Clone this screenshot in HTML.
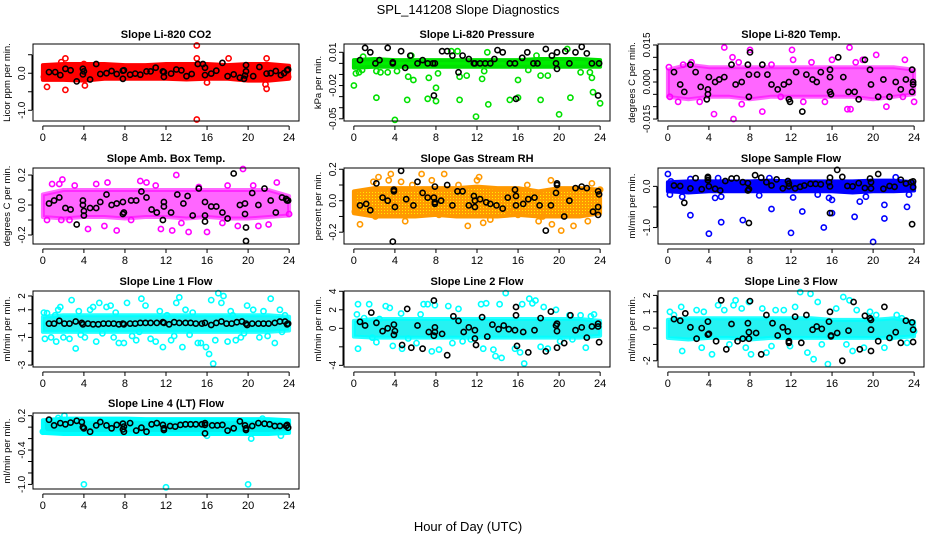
<!DOCTYPE html>
<html><head><meta charset="utf-8"><style>
html,body{margin:0;padding:0;background:#fff;}
svg{display:block;font-family:"Liberation Sans",sans-serif;}
</style></head><body>
<svg id="chart" width="936" height="540" viewBox="0 0 936 540" xmlns="http://www.w3.org/2000/svg">
<defs>
<pattern id="rhpat" width="3" height="3" patternUnits="userSpaceOnUse"><rect width="3" height="3" fill="#ff9900"/><rect width="1" height="1" fill="#ffee00"/></pattern>
</defs>
<text x="468" y="14" text-anchor="middle" font-size="13">SPL_141208  Slope Diagnostics</text>
<text x="468" y="531" text-anchor="middle" font-size="13">Hour of Day (UTC)</text>
</svg>
<script>
const xTicks=[0,4,8,12,16,20,24];
const bandHours=[0,2,4,6,8,10,12,14,16,18,20,22,24];
// Panel 1: CO2
const p1BandLo=[-0.18,-0.18,-0.2,-0.15,-0.15,-0.15,-0.15,-0.17,-0.15,-0.15,-0.2,-0.2,-0.15];
const p1BandHi=[0.22,0.25,0.25,0.25,0.22,0.22,0.25,0.25,0.25,0.22,0.25,0.25,0.2];
const p1Col=[[0.4,-0.37],[2.2,-0.45],[2.2,0.4],[15,0.75],[15,-1.25],[15,0.4],[21.8,0.4],[21.8,-0.42],[4.1,-0.33],[4,0.25],[1.8,0.3],[21.7,-0.3],[18.1,0.4],[16,-0.25],[0.1,-0.1],[23.9,-0.1]];
const p1Blk=[[0.6,0.03],[1.2,0.03],[1.7,-0.05],[2.2,0.12],[2.7,0.08],[3.3,-0.22],[3.9,0.12],[3.9,-0.03],[4,0.05],[4.6,-0.17],[5.2,0.25],[5.6,-0.02],[6.2,0],[6.7,0.06],[7.2,-0.02],[7.8,0.07],[7.8,-0.15],[7.9,0.08],[8.5,-0.04],[9,-0.01],[9.5,-0.04],[10.1,0.05],[10.5,0.05],[11,0.15],[11.7,0.05],[11.8,-0.1],[11.8,0.03],[12.5,-0.01],[13,0.1],[13.5,0.08],[14,-0.08],[14.5,-0.02],[15.1,0.25],[15.6,0.25],[15.8,0.15],[15.8,-0.05],[16.4,-0.01],[16.9,0.07],[17.5,0.28],[18,-0.08],[18.6,-0.03],[19.2,-0.12],[19.6,-0.15],[19.8,0.22],[19.8,0.05],[19.7,-0.06],[20.5,-0.08],[21.1,0.17],[21.8,-0.01],[22.2,0],[22.7,0.06],[23.2,-0.05],[23.5,0],[23.8,0.08],[23.9,0.1]];
// Panel 2: Pressure
const p2BandLo=[-0.004,-0.003,-0.003,-0.003,-0.003,-0.003,-0.003,-0.003,-0.003,-0.003,-0.003,-0.003,-0.003];
const p2BandHi=[0.003,0.004,0.003,0.003,0.003,0.003,0.003,0.003,0.003,0.004,0.004,0.004,0.003];
const p2Col=[[0,-0.02],[0.2,-0.009],[0.5,-0.008],[0.8,-0.006],[2.2,-0.031],[2.2,-0.007],[2.6,-0.008],[3.3,-0.008],[4,-0.051],[4.2,-0.007],[5.2,-0.033],[5.3,-0.012],[5.8,-0.015],[7.2,-0.032],[7.3,-0.013],[8,-0.022],[8,-0.034],[8.2,-0.009],[10.1,0.011],[10.3,-0.012],[10.3,-0.033],[11,-0.011],[11.9,-0.048],[12.5,-0.014],[12.7,-0.007],[13,0.01],[13.1,-0.037],[15.2,-0.033],[16,-0.015],[16,-0.031],[17,-0.006],[17.8,0.007],[18.2,-0.033],[18.2,-0.011],[18.9,-0.011],[20,-0.046],[20.8,0.013],[21.1,-0.031],[22.1,-0.008],[23,-0.008],[23.2,-0.013],[23.3,-0.026],[24,-0.036],[9.5,0.011],[0.9,0.006],[5.6,0.007]];
const p2Blk=[[0.6,0.003],[1.1,0.014],[1.6,0.01],[2.1,0],[2.5,0.003],[3.3,0.014],[3.8,0],[3.8,0.001],[4.6,0.011],[5,-0.004],[5.5,0.007],[6.2,0],[6.7,0.003],[7.2,0],[7.7,0],[7.8,-0.029],[7.9,0],[8.6,0.011],[9.1,0.011],[9.6,0.007],[10.2,-0.008],[10.6,0.007],[11.2,0.004],[11.7,0],[11.8,0],[12.3,0],[12.8,0],[13.3,0],[13.7,0.004],[14,0.012],[14.5,0.01],[15.2,0],[15.7,0],[15.8,-0.032],[16.4,0.005],[16.9,0.01],[17.5,0],[17.9,0],[18.7,0.013],[19.3,0.007],[19.7,0],[19.8,0.01],[19.8,-0.005],[20.6,0.011],[21,0],[21.6,0.01],[22.2,0.015],[22.7,0.009],[23.2,0],[23.9,0],[23.8,-0.029]];
// Panel 3: Li-820 Temp
const p3BandLo=[-0.006,-0.007,-0.006,-0.006,-0.007,-0.006,-0.006,-0.006,-0.006,-0.006,-0.007,-0.006,-0.005];
const p3BandHi=[0.005,0.007,0.006,0.006,0.006,0.006,0.006,0.006,0.006,0.006,0.006,0.006,0.005];
const p3Col=[[5.5,0.014],[6.3,0.01],[6.4,-0.015],[4.5,-0.013],[8,0.013],[12.1,0.013],[12.2,0.009],[17.7,0.014],[17.5,-0.011],[17.8,-0.011],[20.3,0.011],[23.1,0.009],[24,-0.008],[9.2,-0.012],[7.2,-0.009],[1.5,0.007],[0.1,0.006],[16,0.009],[19,0.009],[15.3,-0.008],[21.3,-0.01],[13.2,-0.008],[2.3,0.008],[10.1,0.007],[14,0.008],[3.1,-0.008],[0.2,-0.006],[11,-0.006],[22.9,-0.006],[1,-0.008],[18.3,0.008],[6.9,0.008]];
const p3Blk=[[0.6,0.004],[1.2,-0.001],[1.6,-0.004],[2.2,0.007],[2.7,0.004],[3.2,-0.002],[3.8,-0.007],[3.9,-0.003],[3.9,-0.005],[4,0.002],[4.6,0],[5,0.001],[5.5,0.002],[6.2,0.007],[6.6,-0.001],[7.2,0],[7.8,0.007],[7.9,0.003],[7.9,-0.006],[8,0.012],[8.7,0.003],[9.2,0.007],[9.7,0.003],[10.1,-0.001],[10.7,-0.003],[11.3,-0.001],[11.8,0],[11.8,-0.007],[11.9,-0.008],[12.5,0.004],[13.1,-0.012],[13.5,0.003],[14.1,0.001],[14.5,0],[14.9,0.004],[15.8,0.005],[15.8,0.002],[15.8,-0.004],[15.9,-0.005],[16.6,0.01],[17.1,0.002],[17.6,-0.004],[18.2,-0.004],[18.6,-0.007],[19.2,0.009],[19.7,0.005],[19.8,-0.001],[20.5,-0.006],[21,0.001],[21.6,-0.006],[22.2,0],[22.7,-0.003],[23.2,0.001],[23.8,0.005],[23.8,-0.004],[23.9,0],[23.9,-0.001]];
// Panel 4: Amb Box Temp
const p4BandLo=[-0.08,-0.09,-0.08,-0.08,-0.09,-0.08,-0.08,-0.09,-0.08,-0.09,-0.09,-0.08,-0.07];
const p4BandHi=[0.07,0.1,0.1,0.1,0.1,0.1,0.1,0.1,0.1,0.1,0.1,0.1,0.06];
const p4Col=[[1.9,0.17],[2.6,-0.1],[3.1,0.13],[4.4,-0.16],[5.2,0.14],[6.3,0.15],[7.2,-0.17],[9.5,0.16],[10.1,0.15],[11.5,-0.16],[12.6,-0.17],[13,0.2],[14.2,-0.18],[16,-0.18],[17.5,-0.12],[19.5,0.24],[19,-0.14],[21,-0.14],[22,-0.13],[22.8,0.15],[24,-0.06],[0.4,-0.1],[1.8,-0.1],[8.6,-0.1],[15.2,0.12],[18,0.13],[20.5,0.13],[0.9,0.14],[1.6,0.14],[6,-0.14],[13.5,-0.12],[11,0.13]];
const p4Blk=[[0.6,0.01],[1.1,0.03],[1.6,0.05],[2.2,-0.02],[2.7,-0.03],[3.3,-0.13],[3.9,0.03],[3.9,0],[4,-0.04],[4,-0.07],[4.6,-0.02],[5.2,-0.02],[5.6,0.02],[6.2,0.07],[6.7,0],[7.2,0.01],[7.8,0.02],[7.8,-0.06],[7.9,-0.05],[8.6,0.03],[9.1,0.03],[9.6,0.09],[10.1,0.05],[10.6,-0.03],[11.1,-0.05],[11.7,-0.1],[11.8,0.02],[11.8,-0.01],[12.5,-0.05],[13.1,0.07],[13.7,0.01],[14.1,0.06],[14.6,-0.07],[15.2,0.11],[15.8,0.02],[15.8,-0.07],[15.8,-0.11],[16.4,-0.01],[16.9,-0.01],[17.5,-0.05],[18,-0.09],[18.6,0.21],[19.2,0],[19.7,-0.06],[19.7,0.01],[19.8,-0.15],[19.8,-0.24],[20.4,0.08],[21,0],[21.6,0.11],[22.2,0.03],[22.7,-0.05],[23.3,0.05],[23.7,0.04],[23.8,0.03],[23.9,0.03]];
// Panel 5: Gas Stream RH
const p5BandLo=[-0.08,-0.1,-0.1,-0.1,-0.09,-0.1,-0.1,-0.1,-0.09,-0.1,-0.1,-0.1,-0.08];
const p5BandHi=[0.06,0.08,0.08,0.08,0.08,0.08,0.09,0.08,0.08,0.06,0.08,0.08,0.07];
const p5Col=[[0.6,-0.15],[1.9,0.12],[2.4,0.15],[3.4,0.13],[3.6,0.17],[4.6,0.12],[5,-0.13],[6.6,0.17],[7.6,0.13],[8.8,0.17],[11.1,-0.16],[12.2,0.15],[12.6,-0.14],[13.3,-0.12],[15.2,-0.08],[16,-0.09],[18,-0.13],[19.2,0.13],[19.3,-0.15],[20.2,-0.19],[21.4,-0.16],[22.8,-0.13],[23.2,0.11],[8.3,-0.09],[5.7,0.1],[16.9,0.1],[12,0.13],[0.1,-0.07],[24,0.07],[2.1,-0.1],[10.2,0.1],[18.4,-0.1]];
const p5Blk=[[0.6,-0.03],[1.2,-0.02],[1.6,-0.06],[2.2,0.11],[2.8,0.02],[3.3,0],[3.9,0.06],[3.9,0.07],[3.8,-0.26],[4,-0.04],[4.6,0.19],[5.1,0.01],[5.8,-0.03],[6.2,0.12],[6.7,0.05],[7.2,0.02],[7.8,0.02],[7.9,-0.01],[7.9,-0.02],[7.9,0.09],[8.5,0],[9.1,0.1],[9.6,-0.03],[10.1,0.06],[10.6,0.06],[11.2,-0.03],[11.7,0.03],[11.8,-0.04],[11.8,0],[12.3,0.01],[12.9,-0.01],[13.3,-0.02],[13.9,-0.03],[14.5,-0.05],[15,0.02],[15.7,0.07],[15.8,0.03],[15.8,-0.03],[16.5,-0.02],[17,0.01],[17.6,0.02],[18.1,-0.03],[18.7,-0.19],[19.2,-0.03],[19.7,0.05],[19.8,0.1],[19.8,0.11],[20.5,-0.1],[21,0],[21.6,0.08],[22.2,0.09],[22.7,0.08],[23.3,-0.07],[23.8,0.06],[23.8,-0.04],[23.8,-0.09],[23.9,0.04]];
// Panel 6: Sample Flow
const p6BandLo=[-0.12,-0.15,-0.12,-0.12,-0.12,-0.12,-0.12,-0.12,-0.12,-0.15,-0.12,-0.12,-0.1];
const p6BandHi=[0.1,0.12,0.12,0.12,0.12,0.14,0.12,0.12,0.12,0.12,0.14,0.14,0.1];
const p6Col=[[0,0.3],[0.2,-0.2],[2.2,-0.7],[4,-1.15],[5.2,-0.87],[7.3,-0.82],[10.1,-0.55],[12,-1.13],[13.1,-0.61],[15.2,-1.0],[16,-0.65],[18.2,-0.74],[20,-1.35],[21.1,-0.45],[21.1,-0.78],[23.3,-0.5],[12.2,-0.27],[18.7,-0.37],[16,-0.33],[4.6,-0.28],[5.2,-0.25],[0.3,0.12],[2.2,0.18],[4.9,0.2],[9.9,0.2],[14.6,-0.2],[22.2,0.22],[23.5,-0.2],[15.7,-0.28],[1.4,-0.25],[8.9,-0.22],[19.3,-0.25]];
const p6Blk=[[0.6,0.02],[1.2,0.01],[1.6,-0.4],[2.2,-0.05],[2.7,0.2],[3.3,-0.07],[3.9,0.23],[3.9,0.2],[3.9,0.15],[4,0],[4.6,-0.06],[5.1,-0.1],[5.6,0.13],[6.2,0.19],[6.7,0.2],[7.3,0.1],[7.8,0.08],[7.8,-0.1],[7.9,-0.07],[7.9,-0.89],[8.5,0.27],[9.1,0.21],[9.6,0.1],[10.1,0.02],[10.6,0.17],[11.2,-0.05],[11.7,0.13],[11.8,0.07],[11.8,0],[12.4,-0.05],[12.9,-0.01],[13.3,0.02],[13.9,0.06],[14.4,0.06],[14.9,0.05],[15.7,0.1],[15.8,0],[15.8,0.21],[15.8,-0.65],[16.5,0.4],[17,0.23],[17.5,0.01],[18,0],[18.6,0.08],[19.2,-0.04],[19.7,0.19],[19.8,0.1],[19.8,-0.05],[20.5,0.3],[21,-0.06],[21.6,0.01],[22.1,-0.01],[22.7,0.16],[23.2,0.07],[23.7,0.1],[23.8,-0.92],[23.9,0.12],[23.9,-0.02]];
// Panel 7: Line 1 Flow
const p7BandLo=[-0.6,-0.6,-0.6,-0.6,-0.6,-0.6,-0.6,-0.6,-0.6,-0.6,-0.6,-0.6,-0.5];
const p7BandHi=[0.5,0.6,0.6,0.6,0.6,0.6,0.6,0.6,0.6,0.6,0.6,0.6,0.5];
const p7Col=[[0.1,0.8],[0.4,0.75],[0.2,-1.1],[0.8,-1.0],[1.3,-1.3],[1.5,1.0],[1.7,1.2],[2.0,-1.0],[2.6,-1.1],[2.8,1.7],[3.2,-1.8],[3.5,0.9],[4.1,-1.0],[4.6,1.0],[4.9,1.2],[5.2,-1.3],[5.5,1.5],[6.2,1.2],[6.6,1.3],[6.9,-1.0],[7.4,-1.4],[7.9,-1.4],[8.2,1.5],[8.7,-0.9],[9.1,-1.2],[9.6,1.8],[10,1.3],[10.5,-1.1],[11,-1.3],[11.4,0.9],[11.7,-1.7],[12.5,-1.2],[12.8,-0.9],[13,1.5],[13.3,1.9],[13.6,-1.7],[13.9,1.0],[14.6,0.8],[15.1,-1.4],[15.4,-1.4],[15.9,-1.7],[16.2,-2.2],[16.4,1.7],[16.6,-2.9],[16.8,-1.2],[17.1,2.2],[17.4,1.5],[17.6,2.0],[18,-1.3],[18.3,0.9],[18.8,-1.2],[19.3,-1.0],[19.9,1.3],[20.5,1.0],[21.1,-1.0],[21.5,0.9],[22.2,1.8],[22.6,-1.4],[23.1,1.0],[23.6,0.6],[1.2,0.6],[3.7,-0.8],[7.1,0.8],[12.1,0.6],[14.3,-0.8],[19.6,-0.7],[21.9,-0.9],[9.4,-0.6],[5.8,-0.7],[18.5,0.6],[23.3,-0.6]];
const p7Blk=[[0.6,0],[1.1,0],[1.6,0.2],[2.1,0],[2.6,0],[3.2,0.15],[3.8,0.05],[3.9,-0.05],[4.4,0],[4.9,-0.05],[5.4,-0.05],[5.9,0],[6.4,0],[6.9,0],[7.4,-0.05],[7.8,0],[7.9,-0.05],[8.5,0],[9,0],[9.5,0.05],[10,0.05],[10.5,0.05],[11.1,0.05],[11.7,0.1],[11.8,0.05],[12.3,-0.05],[12.8,0.1],[13.3,0.05],[13.9,0.05],[14.4,0.05],[14.9,0],[15.5,0],[15.8,0.05],[16.4,-0.1],[16.9,0.05],[17.4,0.15],[17.9,0],[18.4,0],[18.9,0.1],[19.4,0.15],[19.8,0],[19.9,-0.1],[20.4,0],[21,0],[21.5,0],[22,0],[22.6,0.05],[23.1,0.15],[23.6,0.15],[23.8,-0.05],[23.9,0]];
// Panel 8: Line 2 Flow
const p8BandLo=[-0.9,-1.0,-1.0,-1.0,-1.0,-1.0,-1.0,-1.0,-1.0,-1.0,-1.0,-1.0,-0.8];
const p8BandHi=[0.8,1.0,1.0,1.0,1.0,1.0,1.0,1.0,1.0,1.0,1.0,1.0,0.8];
const p8Col=[[0.3,1.5],[0.4,2.6],[0.4,-2.2],[1,1.1],[1.5,2.6],[1.8,-1.0],[2.2,-1.5],[2.5,1.0],[3.1,2.4],[3.5,2.2],[3.8,-1.9],[4.6,1.6],[4.7,-2.2],[5.3,-1.1],[6.1,-1.6],[6.5,1.5],[6.8,2.6],[7.2,2.6],[7.6,-2.5],[7.9,2.5],[8.3,-2.3],[9.2,2.4],[9.6,-1.6],[10.2,2.1],[10.6,-1.4],[11.4,-1.2],[12.4,2.6],[12.6,-2.2],[12.9,2.7],[13.6,-2.3],[13.8,-3.0],[14.2,2.6],[14.4,-3.2],[14.8,3.8],[15.7,-2.2],[16.2,-2.6],[16.4,2.6],[16.6,-3.8],[17.1,3.2],[17.4,2.7],[17.7,3.0],[18.2,-2.0],[18.5,2.3],[18.9,-2.2],[19.7,2.0],[20.1,-1.4],[21,1.4],[21.3,-1.2],[22.1,1.4],[22.6,-2.1],[23.1,1.3],[23.4,1.5]];
const p8Blk=[[0.6,0.7],[1.1,0.3],[1.7,1.7],[2.2,0.6],[2.8,-0.3],[3.3,0],[3.9,0.4],[3.9,-0.7],[4,-0.3],[4.7,-1.8],[5.2,2.1],[5.6,-2.1],[6.2,0.3],[6.7,-2.2],[7.3,-0.4],[7.8,3.0],[7.9,0.1],[7.9,-0.4],[7.8,-0.8],[8.6,-0.6],[9.1,-2.9],[9.7,1.3],[10.2,0.8],[10.7,-0.4],[11.2,0.1],[11.8,-0.2],[11.8,-1.1],[11.9,-1.8],[12.5,1.2],[13,-0.9],[13.5,0.4],[14.1,-0.1],[14.6,0.3],[15.1,-0.1],[15.7,-0.2],[15.8,1.4],[15.8,2.3],[15.9,-1.9],[16.5,-0.4],[17,-2.6],[17.6,-0.2],[18.2,1.1],[18.7,-2.5],[19.2,1.8],[19.7,0.3],[19.8,-0.3],[19.8,0.5],[19.8,-2.1],[20.5,-1.6],[21.1,1.4],[21.6,-0.2],[22.2,0.1],[22.7,-1.0],[23.2,0.2],[23.8,0.5],[23.8,0.2],[23.9,-1.5]];
// Panel 9: Line 3 Flow
const p9BandLo=[-0.6,-0.7,-0.6,-0.6,-0.7,-0.6,-0.6,-0.6,-0.6,-0.6,-0.6,-0.6,-0.5];
const p9BandHi=[0.5,0.6,0.6,0.6,0.6,0.6,0.6,0.6,0.5,0.5,0.5,0.6,0.4];
const p9Col=[[0.2,1.0],[0.6,0.8],[1.3,1.3],[1.4,-1.4],[2.8,1.1],[3.3,-1.2],[3.5,1.0],[4.3,-1.6],[4.9,1.4],[5.5,1.1],[6,-1.0],[6.4,1.4],[6.6,1.7],[7.2,1.2],[7.6,-1.2],[7.9,1.6],[8.1,-1.6],[9.2,1.2],[9.6,-1.5],[10.1,-1.1],[10.5,1.1],[11.3,1.1],[11.9,-1.1],[12.4,1.3],[12.9,2.2],[13.6,-1.5],[13.9,2.1],[14.2,-1.9],[14.6,1.6],[15,-1.0],[15.6,-2.2],[16.4,1.2],[17.1,1.9],[17.4,-1.0],[17.7,1.7],[18,-1.4],[18.4,1.1],[19.1,-1.2],[19.7,1.0],[20.3,0.8],[21.1,-1.2],[21.7,-0.6],[22.3,0.8],[22.8,0.6],[23.3,-0.9],[24,-0.2]];
const p9Blk=[[0.6,0.55],[1.2,0.45],[1.7,0.9],[2.2,0.05],[2.8,-0.65],[3.3,0],[3.9,0.4],[3.9,-0.4],[4,-0.35],[4.7,-0.8],[5.2,1.7],[5.7,-1.3],[6.2,0.25],[6.8,-0.8],[7.3,-0.65],[7.8,0.3],[7.9,-0.25],[7.9,-0.65],[8,1.65],[8.6,-0.3],[9.1,-1.6],[9.6,0.8],[10.2,0.3],[10.7,-0.45],[11.2,0.05],[11.7,-0.2],[11.8,-0.8],[11.8,-0.9],[12.4,0.7],[13,-0.9],[13.5,0.8],[14.1,-0.1],[14.5,0.1],[15,-0.05],[15.7,0.4],[15.8,1.0],[15.9,-0.5],[15.9,-0.45],[16.5,-0.3],[17,-2.0],[17.6,-0.15],[18.1,1.6],[18.7,-1.3],[19.2,0.75],[19.7,0.6],[19.8,0.5],[19.8,-0.1],[19.8,-1.4],[20.5,-0.8],[21.1,1.3],[21.6,-0.6],[22.2,-0.25],[22.7,-0.9],[23.2,0.45],[23.8,0.35],[23.9,-0.1],[23.9,-0.85]];
// Panel 10: Line 4 (LT) Flow
const p10BandLo=[-0.1,-0.12,-0.12,-0.12,-0.12,-0.12,-0.12,-0.12,-0.12,-0.12,-0.12,-0.12,-0.1];
const p10BandHi=[0.12,0.15,0.15,0.15,0.15,0.14,0.14,0.14,0.14,0.14,0.14,0.14,0.12];
const p10Col=[[4,-1.0],[12,-1.05],[20,-1.0],[2.1,0.2],[1.5,0.16],[21.4,0.15],[20.3,-0.2],[0,-0.08],[23.2,-0.15],[16,-0.15]];
const p10Blk=[[0.6,0.13],[1.1,0.03],[1.7,0.07],[2.2,0.05],[2.7,0.08],[3.3,0.11],[3.8,0.09],[3.9,0],[4,-0.02],[4.6,-0.08],[5.2,0.03],[5.6,0.09],[6.2,0.03],[6.7,-0.02],[7.2,0.04],[7.8,0.06],[7.8,-0.04],[7.9,-0.08],[7.9,0.01],[8.5,0.07],[9.1,-0.06],[9.6,-0.01],[10.1,-0.08],[10.6,0.05],[11.1,0.07],[11.7,0.04],[11.8,-0.02],[11.8,-0.05],[12.4,0.02],[12.9,0.01],[13.4,0.04],[13.9,0.05],[14.4,0.05],[14.9,0.05],[15.5,0.05],[15.8,0.07],[15.8,0.04],[15.8,-0.11],[16.5,0.03],[17,0.03],[17.5,0.04],[18,-0.06],[18.6,-0.02],[19.2,0.1],[19.7,0.03],[19.8,-0.05],[19.8,-0.02],[20.4,0.02],[21,0.07],[21.6,0.06],[22.1,0.05],[22.6,0.02],[23.1,0.02],[23.7,0.02],[23.8,0.04],[23.9,-0.01]];

const panels=[
 {name:'co2',title:'Slope Li-820 CO2',ylab:'Licor ppm per min.',left:33,top:44,w:266,h:77,ymin:-1.29,ymax:0.79,ticks:[-1,-0.5,0,0.5],labels:['-1.0','','0.0',''],col:'#ff0000',band:'#ff0000',bop:1,lo:p1BandLo,hi:p1BandHi,pts:p1Col,blk:p1Blk},
 {name:'pressure',title:'Slope Li-820 Pressure',ylab:'kPa per min.',left:344,top:44,w:266,h:77,ymin:-0.052,ymax:0.0175,ticks:[-0.05,-0.04,-0.03,-0.02,-0.01,0,0.01],labels:['-0.05','','','-0.02','','','0.01'],col:'#00e000',band:'#00ee00',bop:1,lo:p2BandLo,hi:p2BandHi,pts:p2Col,blk:p2Blk},
 {name:'li820-temp',title:'Slope Li-820 Temp.',ylab:'degrees C per min.',left:658,top:44,w:266,h:77,ymin:-0.0158,ymax:0.0154,ticks:[-0.015,-0.01,-0.005,0,0.005,0.01,0.015],labels:['-0.015','','','0.000','','','0.015'],col:'#ff00ff',band:'#ff00ff',bop:0.6,lo:p3BandLo,hi:p3BandHi,pts:p3Col,blk:p3Blk},
 {name:'amb-box-temp',title:'Slope Amb. Box Temp.',ylab:'degrees C per min.',left:33,top:168,w:266,h:76,ymin:-0.26,ymax:0.247,ticks:[-0.2,-0.1,0,0.1,0.2],labels:['-0.2','','0.0','','0.2'],col:'#ff00ff',band:'#ff00ff',bop:0.6,lo:p4BandLo,hi:p4BandHi,pts:p4Col,blk:p4Blk},
 {name:'gas-stream-rh',title:'Slope Gas Stream RH',ylab:'percent per min.',left:344,top:168,w:266,h:76,ymin:-0.275,ymax:0.208,ticks:[-0.2,-0.1,0,0.1,0.2],labels:['-0.2','','0.0','','0.2'],col:'#ff9900',band:'url(#rhpat)',bop:1,lo:p5BandLo,hi:p5BandHi,pts:p5Col,blk:p5Blk},
 {name:'sample-flow',title:'Slope Sample Flow',ylab:'ml/min per min.',left:658,top:168,w:266,h:76,ymin:-1.4,ymax:0.446,ticks:[-1,-0.5,0],labels:['-1.0','','0.0'],col:'#0000ff',band:'#0000ff',bop:1,lo:p6BandLo,hi:p6BandHi,pts:p6Col,blk:p6Blk},
 {name:'line1-flow',title:'Slope Line 1 Flow',ylab:'ml/min per min.',left:33,top:291,w:266,h:76,ymin:-3.14,ymax:2.36,ticks:[-3,-2,-1,0,1,2],labels:['-3','','-1','','1','2'],col:'#00ffff',band:'#00f0f0',bop:0.85,lo:p7BandLo,hi:p7BandHi,pts:p7Col,blk:p7Blk},
 {name:'line2-flow',title:'Slope Line 2 Flow',ylab:'ml/min per min.',left:344,top:291,w:266,h:76,ymin:-4.18,ymax:4.03,ticks:[-4,-2,0,2,4],labels:['-4','','0','2','4'],col:'#00ffff',band:'#00f0f0',bop:0.85,lo:p8BandLo,hi:p8BandHi,pts:p8Col,blk:p8Blk},
 {name:'line3-flow',title:'Slope Line 3 Flow',ylab:'ml/min per min.',left:658,top:291,w:266,h:76,ymin:-2.38,ymax:2.27,ticks:[-2,-1,0,1,2],labels:['-2','','0','1','2'],col:'#00ffff',band:'#00f0f0',bop:0.85,lo:p9BandLo,hi:p9BandHi,pts:p9Col,blk:p9Blk},
 {name:'line4-flow',title:'Slope Line 4 (LT) Flow',ylab:'ml/min per min.',left:33,top:413,w:266,h:76,ymin:-1.08,ymax:0.247,ticks:[-1,-0.8,-0.6,-0.4,-0.2,0,0.2],labels:['-1.0','','','-0.4','','','0.2'],col:'#00ffff',band:'#00f0f0',bop:1,lo:p10BandLo,hi:p10BandHi,pts:p10Col,blk:p10Blk}
];
const NS='http://www.w3.org/2000/svg';
const svg=document.getElementById('chart');
function mk(tag,attrs,parent){const e=document.createElementNS(NS,tag);for(const k in attrs)e.setAttribute(k,attrs[k]);parent.appendChild(e);return e;}
panels.forEach(p=>{
 const g=mk('g',{},svg);
 
 
 const xs=v=>p.left+(v+0.96)/25.92*p.w;
 const ys=v=>p.top+(p.ymax-v)/(p.ymax-p.ymin)*p.h;
 const bottom=p.top+p.h;
 let d='';
 bandHours.forEach((h,i)=>{d+=(i?'L':'M')+xs(h).toFixed(1)+','+ys(p.hi[i]).toFixed(1);});
 for(let i=bandHours.length-1;i>=0;i--){d+='L'+xs(bandHours[i]).toFixed(1)+','+ys(p.lo[i]).toFixed(1);}
 const band=mk('path',{d:d+'Z',fill:p.band,'fill-opacity':p.bop,stroke:p.col,'stroke-opacity':p.bop,'stroke-width':4,'stroke-linejoin':'round'},g);
 
 
 p.pts.forEach(pt=>{
  const c=mk('circle',{cx:xs(pt[0]).toFixed(1),cy:ys(pt[1]).toFixed(1),r:2.6,fill:'none',stroke:p.col,'stroke-width':1.6},g);
  
  
 });
 p.blk.forEach(pt=>{
  const c=mk('circle',{cx:xs(pt[0]).toFixed(1),cy:ys(pt[1]).toFixed(1),r:2.6,fill:'none',stroke:'#000','stroke-width':1.6},g);
  
  
 });
 const box=mk('rect',{x:p.left,y:p.top,width:p.w,height:p.h,fill:'none',stroke:'#000','stroke-width':1},g);
 
 
 const t=mk('text',{x:p.left+p.w/2,y:p.top-6,'text-anchor':'middle','font-size':11,'font-weight':'bold'},g);
 t.textContent=p.title;
 
 
 const ax=mk('line',{x1:xs(0),x2:xs(24),y1:bottom+5,y2:bottom+5,stroke:'#000'},g);
 
 
 xTicks.forEach(v=>{
  mk('line',{x1:xs(v),x2:xs(v),y1:bottom+5,y2:bottom+9,stroke:'#000'},g);
  const tl=mk('text',{x:xs(v),y:bottom+20,'text-anchor':'middle','font-size':11},g);
  tl.textContent=v;
  
  
 });
 const ay=mk('line',{x1:p.left-1,x2:p.left-1,y1:ys(p.ticks[0]),y2:ys(p.ticks[p.ticks.length-1]),stroke:'#000'},g);
 
 
 p.ticks.forEach((v,i)=>{
  mk('line',{x1:p.left-5,x2:p.left-1,y1:ys(v),y2:ys(v),stroke:'#000'},g);
  if(p.labels[i]){
   const tl=mk('text',{x:0,y:0,'text-anchor':'middle','font-size':10,transform:'translate('+(p.left-8)+','+ys(v).toFixed(1)+') rotate(-90)'},g);
   tl.textContent=p.labels[i];
   
   
  }
 });
 const yl=mk('text',{x:0,y:0,'text-anchor':'middle','font-size':9.5,transform:'translate('+(p.left-23)+','+(p.top+p.h/2)+') rotate(-90)'},g);
 yl.textContent=p.ylab;
 
 
});
</script>
</body></html>
